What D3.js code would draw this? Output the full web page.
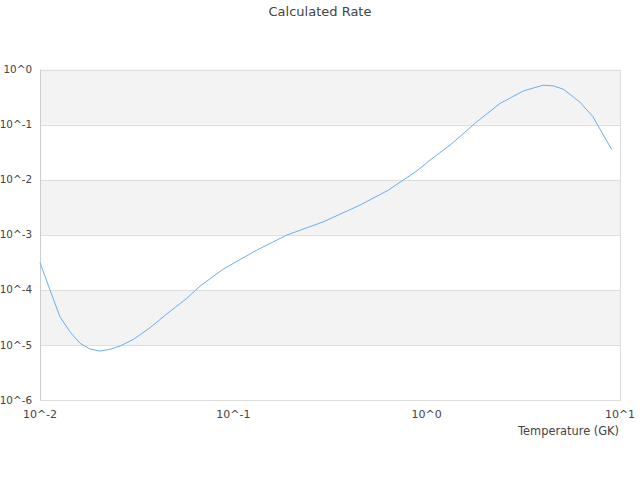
<!DOCTYPE html>
<html><head><meta charset="utf-8">
<script src="https://cdn.jsdelivr.net/npm/d3@7"></script>
<style>body{margin:0;background:#fff;}svg{display:block;font-family:"DejaVu Sans",sans-serif;}</style>
</head><body>
<svg id="c" width="640" height="480"></svg>
<script>
const temperature = [0.0100,0.01127,0.01268,0.01429,0.01611,0.01815,0.02042,0.02301,0.02594,0.03041,0.03707,0.04519,0.05741,0.06730,0.08872,0.1321,0.1888,0.2924,0.4519,0.6339,0.8913,1.040,1.321,1.816,2.393,3.162,4.009,4.519,5.093,6.209,7.244,9.057];
const rate = [3.10e-4,9.9e-5,3.24e-5,1.73e-5,1.07e-5,8.41e-6,7.74e-6,8.32e-6,9.55e-6,1.26e-5,2.05e-5,3.63e-5,7.00e-5,1.17e-4,2.38e-4,5.26e-4,9.84e-4,1.72e-3,3.45e-3,6.46e-3,1.45e-2,2.26e-2,4.23e-2,0.112,0.241,0.408,0.519,0.504,0.439,0.255,0.139,0.0353];
const xTicks = [0.01,0.1,1,10];
const xTickLabels = ["10^-2","10^-1","10^0","10^1"];
const yTicks = [1e-6,1e-5,1e-4,1e-3,1e-2,1e-1,1];
const yTickLabels = ["10^-6","10^-5","10^-4","10^-3","10^-2","10^-1","10^0"];
const title = "Calculated Rate";
const xTitle = "Temperature (GK)";

const svg = d3.select("#c");
const L=40,R=620,T=69.5,B=400;
const x = d3.scaleLog().domain([0.01,10]).range([L,R]);
const y = d3.scaleLog().domain([1e-6,1]).range([B,T]);

// bands
const bands = [[1e-1,1],[1e-3,1e-2],[1e-5,1e-4]];
svg.selectAll("rect.band").data(bands).enter().append("rect")
  .attr("x",L).attr("width",R-L)
  .attr("y",d=>y(d[1])).attr("height",d=>y(d[0])-y(d[1]))
  .attr("fill","#f3f3f3");

// grid
svg.selectAll("line.grid").data(yTicks).enter().append("line")
  .attr("x1",L).attr("x2",R).attr("y1",d=>Math.round(y(d))+0.5).attr("y2",d=>Math.round(y(d))+0.5)
  .attr("stroke","#dddddd").attr("stroke-width",1);
svg.append("rect").attr("x",L+0.5).attr("y",Math.round(T)+0.5).attr("width",R-L).attr("height",B-Math.round(T))
  .attr("fill","none").attr("stroke","#dddddd");
svg.append("line").attr("x1",L+0.5).attr("x2",L+0.5).attr("y1",T).attr("y2",B+0.5).attr("stroke","#cccccc");

// y labels
svg.selectAll("text.yl").data(yTicks).enter().append("text")
  .attr("x",32).attr("y",d=>y(d)).attr("dy","0.35em").attr("text-anchor","end")
  .attr("font-size",10.4).attr("fill","#444").text((d,i)=>yTickLabels[i]);
// x labels
svg.selectAll("text.xl").data(xTicks).enter().append("text")
  .attr("x",d=>x(d)).attr("y",418).attr("text-anchor","middle")
  .attr("font-size",11).attr("fill","#444").text((d,i)=>xTickLabels[i]);

svg.append("text").attr("x",619).attr("y",435).attr("text-anchor","end")
  .attr("font-size",11.4).attr("fill","#444").text(xTitle);
svg.append("text").attr("x",320).attr("y",16).attr("text-anchor","middle")
  .attr("font-size",13).attr("fill","#444").text(title);

const line = d3.line().x(d=>x(d[0])).y(d=>y(d[1]));
svg.append("path").datum(temperature.map((t,i)=>[t,rate[i]]))
  .attr("d",line).attr("fill","none").attr("stroke","#6aaef0").attr("stroke-width",1);
</script>
</body></html>
